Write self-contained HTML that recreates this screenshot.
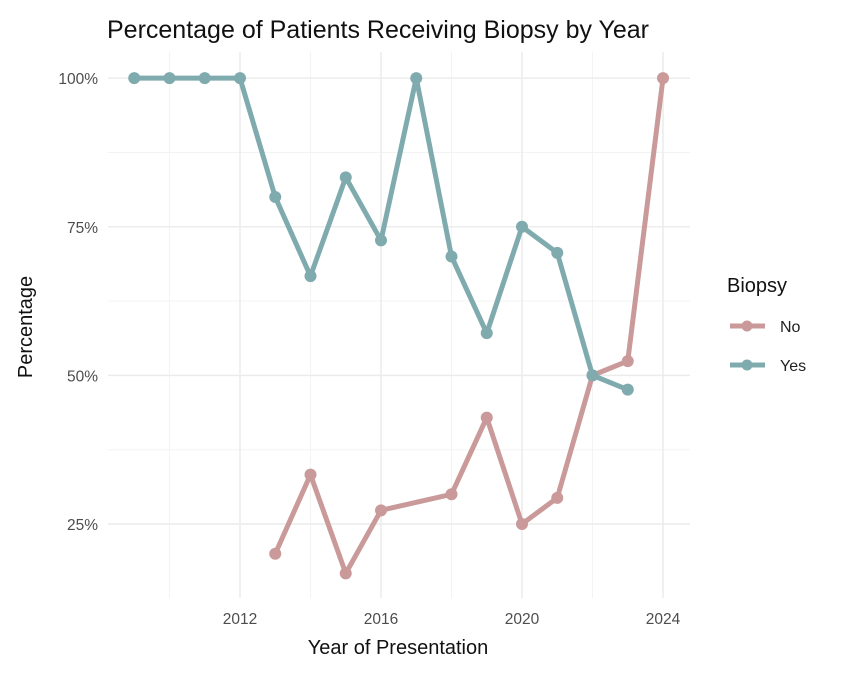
<!DOCTYPE html>
<html><head><meta charset="utf-8"><style>
body{margin:0;background:#fff;font-family:"Liberation Sans",sans-serif}
</style></head><body>
<svg id="chart" width="842" height="672" viewBox="0 0 842 672" xmlns="http://www.w3.org/2000/svg" font-family="Liberation Sans, sans-serif">
<g id="grid"></g>
<g id="axes"></g>
<g id="series"></g>
<text x="107" y="38" font-size="25" fill="#111">Percentage of Patients Receiving Biopsy by Year</text>
<text x="398" y="654" font-size="20" text-anchor="middle" fill="#111">Year of Presentation</text>
<text transform="translate(32,327) rotate(-90)" font-size="20" text-anchor="middle" fill="#111">Percentage</text>
<g>
<text x="727" y="292" font-size="20" fill="#111">Biopsy</text>
<g><line x1="730" y1="326" x2="765" y2="326" stroke="#c99a99" stroke-width="5"/><circle cx="747" cy="326" r="5.5" fill="#c99a99"/><text x="780" y="332" font-size="16" fill="#222">No</text></g>
<g><line x1="730" y1="365" x2="765" y2="365" stroke="#80abae" stroke-width="5"/><circle cx="747" cy="365" r="5.5" fill="#80abae"/><text x="780" y="371" font-size="16" fill="#222">Yes</text></g>
</g>
</svg>
<script>
const years=[2009,2010,2011,2012,2013,2014,2015,2016,2017,2018,2019,2020,2021,2022,2023,2024];
const yesYears=[2009,2010,2011,2012,2013,2014,2015,2016,2017,2018,2019,2020,2021,2022,2023];
const yesValues=[100,100,100,100,80,66.7,83.3,72.7,100,70,57.1,75,70.6,50,47.6];
const noYears=[2013,2014,2015,2016,2018,2019,2020,2021,2022,2023,2024];
const noValues=[20,33.3,16.7,27.3,30,42.9,25,29.4,50,52.4,100];
const xTicks=[2012,2016,2020,2024];
const xMinor=[2010,2014,2018,2022];
const yTicks=[25,50,75,100];
const yTickLabels=["25%","50%","75%","100%"];
const yMinor=[37.5,62.5,87.5];
const NS="http://www.w3.org/2000/svg";
const L=108,R=690,T=52,B=598;
function xs(v){return 240+(v-2012)*35.25;}
function ys(v){return 524-(v-25)*5.945;}
function mk(t,a,p){const e=document.createElementNS(NS,t);for(const k in a)e.setAttribute(k,a[k]);p.appendChild(e);return e;}
const grid=document.getElementById('grid'),axes=document.getElementById('axes'),ser=document.getElementById('series');
xMinor.forEach(v=>{const e=mk('line',{x1:xs(v),x2:xs(v),y1:T,y2:B,stroke:'#f3f3f3','stroke-width':1},grid);

});
yMinor.forEach(v=>{const e=mk('line',{x1:L,x2:R,y1:ys(v),y2:ys(v),stroke:'#f3f3f3','stroke-width':1},grid);

});
xTicks.forEach(v=>{const e=mk('line',{x1:xs(v),x2:xs(v),y1:T,y2:B,stroke:'#ececec','stroke-width':1.5},grid);


const t=mk('text',{x:xs(v),y:624,'font-size':15.5,'text-anchor':'middle',fill:'#4d4d4d'},axes);t.textContent=v;

});
yTicks.forEach((v,i)=>{const e=mk('line',{x1:L,x2:R,y1:ys(v),y2:ys(v),stroke:'#ececec','stroke-width':1.5},grid);


const t=mk('text',{x:98,y:ys(v)+6,'font-size':15.5,'text-anchor':'end',fill:'#4d4d4d'},axes);t.textContent=yTickLabels[i];

});
function draw(xv,yv,col,name){
const pts=xv.map((x,i)=>xs(x)+','+ys(yv[i])).join(' ');
const pl=mk('polyline',{points:pts,fill:'none',stroke:col,'stroke-width':5,'stroke-linejoin':'round'},ser);


xv.forEach((x,i)=>{const c=mk('circle',{cx:xs(x),cy:ys(yv[i]),r:6,fill:col},ser);

});}
draw(noYears,noValues,'#c99a99','no');
draw(yesYears,yesValues,'#80abae','yes');
</script>
</body></html>
